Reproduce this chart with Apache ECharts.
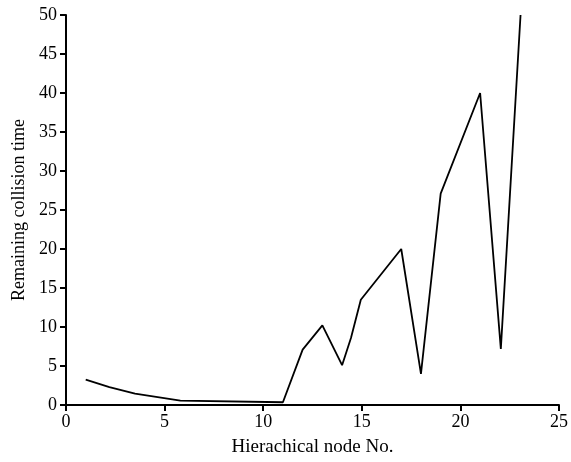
<!DOCTYPE html>
<html>
<head>
<meta charset="utf-8">
<script src="https://cdn.jsdelivr.net/npm/echarts@6/dist/echarts.min.js"></script>
<style>
html,body{margin:0;padding:0;background:#fff;}
#chart{width:571px;height:462px;}
</style>
</head>
<body>
<div id="chart"></div>
<script>
// node number vs remaining collision time
var nodeNo    = [1, 2.2, 3.5, 5.8, 11, 12, 13, 14, 14.45, 14.95, 17, 18, 19, 21, 22.05, 23.05];
var remaining = [3.25, 2.3, 1.45, 0.55, 0.35, 7.1, 10.2, 5.1, 8.6, 13.5, 20, 4, 27.1, 40, 7.2, 50];
var xTicks = [0, 5, 10, 15, 20, 25];
var yTicks = [0, 5, 10, 15, 20, 25, 30, 35, 40, 45, 50];

var serif = '"Liberation Serif", "Times New Roman", serif';

function pairs(){
    var out = [];
    for (var i = 0; i < nodeNo.length; i++) {
        out.push([nodeNo[i], remaining[i]]);
    }
    return out;
}

var option = {
    animation: false,
    backgroundColor: '#fff',
    grid: {
        left: 66,
        right: 10,
        top: 15,
        bottom: 57
    },
    xAxis: {
        type: 'value',
        min: xTicks[0],
        max: xTicks[xTicks.length - 1],
        interval: 5,
        name: 'Hierachical node No.',
        nameLocation: 'middle',
        nameGap: 33,
        nameTextStyle: {color: '#000', fontFamily: serif, fontSize: 19},
        axisLine: {show: true, onZero: false, lineStyle: {color: '#000', width: 2}},
        axisTick: {show: true, inside: false, length: 6, lineStyle: {color: '#000', width: 2}},
        axisLabel: {color: '#000', fontFamily: serif, fontSize: 18, margin: 8},
        splitLine: {show: false}
    },
    yAxis: {
        type: 'value',
        min: yTicks[0],
        max: yTicks[yTicks.length - 1],
        interval: 5,
        name: 'Remaining collision time',
        nameLocation: 'middle',
        nameGap: 36,
        nameTextStyle: {color: '#000', fontFamily: serif, fontSize: 18},
        axisLine: {show: true, onZero: false, lineStyle: {color: '#000', width: 2}},
        axisTick: {show: true, inside: false, length: 6, lineStyle: {color: '#000', width: 2}},
        axisLabel: {color: '#000', fontFamily: serif, fontSize: 18, margin: 9},
        splitLine: {show: false}
    },
    series: [{
        type: 'line',
        data: pairs(),
        symbol: 'none',
        lineStyle: {color: '#000', width: 1.8},
        itemStyle: {color: '#000'}
    }]
};

var myChart = echarts.init(document.getElementById('chart'));
myChart.setOption(option);
</script>
</body>
</html>
